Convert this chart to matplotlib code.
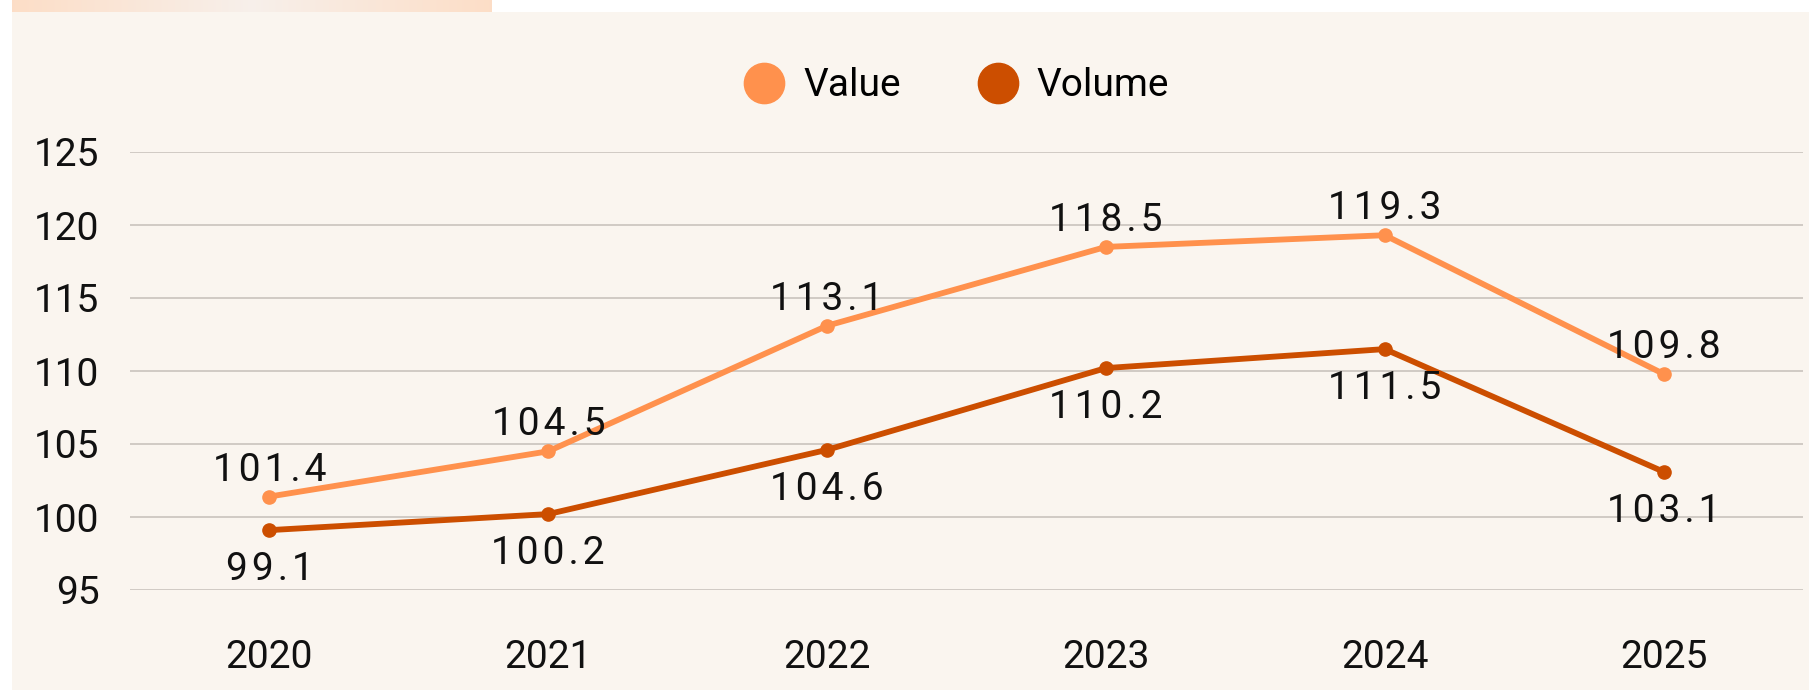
import numpy as np
import matplotlib
matplotlib.use("Agg")
import matplotlib.pyplot as plt
from matplotlib.patches import Rectangle
from matplotlib.lines import Line2D

plt.rcParams["font.family"] = ["Roboto", "DejaVu Sans"]

# ── Data ──────────────────────────────────────────────────────────────
years = ["2020", "2021", "2022", "2023", "2024", "2025"]
value = [101.4, 104.5, 113.1, 118.5, 119.3, 109.8]
volume = [99.1, 100.2, 104.6, 110.2, 111.5, 103.1]
y_ticks = [95, 100, 105, 110, 115, 120, 125]

# ── Style ─────────────────────────────────────────────────────────────
C_VALUE = "#FF914D"
C_VOLUME = "#CC4E00"
BG = "#FAF5EF"
GRID = "#C9C3BD"
FS = 28
HAIR = "\u200a"  # data labels are slightly letter-spaced


def spaced(v):
    return HAIR.join(f"{v:.1f}")


W, H = 1809, 690
fig = plt.figure(figsize=(W / 100, H / 100), dpi=100)
fig.patch.set_facecolor("white")

# cream panel (as a background axes so it sits behind the plot)
bg = fig.add_axes([12 / W, 0, 1 - 12 / W, (H - 12) / H], zorder=-10)
bg.add_patch(Rectangle((0, 0), 1, 1, facecolor=BG, edgecolor="none"))
bg.set_axis_off()

# top gradient strip
strip = fig.add_axes([12 / W, (H - 12) / H, 479 / W, 12 / H])
t = np.linspace(0, 1, 256)
g = np.abs(t - 0.5) * 2
c0 = np.array([0.97, 0.94, 0.92])
c1 = np.array([0.99, 0.87, 0.78])
grad = (c0[None, :] * (1 - g[:, None]) + c1[None, :] * g[:, None])[None, :, :]
strip.imshow(grad, aspect="auto", extent=[0, 1, 0, 1])
strip.set_axis_off()

# ── Main axes ─────────────────────────────────────────────────────────
ax = fig.add_axes([130 / W, (H - 590) / H, (1803 - 130) / W, (590 - 152) / H])
ax.set_facecolor("none")
x = np.arange(len(years))

ax.plot(x, value, color=C_VALUE, lw=4.2, marker="o", ms=9.5, clip_on=False, zorder=3)
ax.plot(x, volume, color=C_VOLUME, lw=4.2, marker="o", ms=9.5, clip_on=False, zorder=3)

for xi, v in zip(x, value):
    ax.annotate(spaced(v), (xi, v), xytext=(0, 16), textcoords="offset pixels",
                ha="center", va="baseline", fontsize=FS, color="#111111")
for xi, v in zip(x, volume):
    ax.annotate(spaced(v), (xi, v), xytext=(0, -50), textcoords="offset pixels",
                ha="center", va="baseline", fontsize=FS, color="#111111")

ax.set_xlim(-0.5, 5.5)
ax.set_ylim(95, 125)
ax.set_yticks(y_ticks)
ax.set_xticks(x)
ax.set_xticklabels(years)
ax.tick_params(axis="both", length=0, labelsize=FS, colors="#111111")
ax.tick_params(axis="x", pad=35)
ax.tick_params(axis="y", pad=22)
ax.grid(axis="y", color=GRID, lw=1.2)
ax.set_axisbelow(True)
for s in ax.spines.values():
    s.set_visible(False)

# legend
handles = [
    Line2D([], [], ls="none", marker="o", ms=29, color=C_VALUE, label="Value"),
    Line2D([], [], ls="none", marker="o", ms=29, color=C_VOLUME, label="Volume"),
]
fig.legend(handles=handles, loc="center", bbox_to_anchor=(957 / W, (H - 86) / H),
           ncol=2, frameon=False, fontsize=FS, handletextpad=0.5, columnspacing=2.0,
           handlelength=1.0)

fig.savefig("out.png", dpi=100, facecolor=fig.get_facecolor())
